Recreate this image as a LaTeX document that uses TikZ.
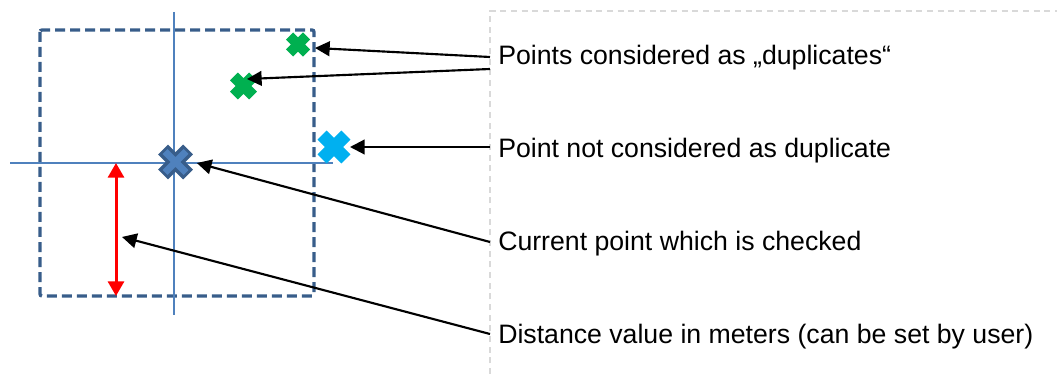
\documentclass[tikz,border=0pt]{standalone}
\usepackage{fontspec}
\setmainfont{Liberation Sans}
\usetikzlibrary{arrows.meta, positioning}
\definecolor{boxblue}{HTML}{385D8A}
\definecolor{axisblue}{HTML}{4F81BD}
\definecolor{dupgreen}{HTML}{00B050}
\definecolor{freecyan}{HTML}{00B0F0}
\definecolor{framegray}{HTML}{D9D9D9}
\tikzstyle{arrow} = [line width=1.6pt,-{Triangle[length=11pt,width=11pt]}]
\tikzstyle{legend} = [anchor=base west, inner sep=0pt, font=\fontsize{20}{24}\selectfont]
\tikzstyle{axis} = [axisblue, line width=1.3pt]
% bold cross: centre, half arm, arm width, colour
\newcommand{\crossmark}[4]{%
  \draw[shift={(#1)}, #4, line width=#3] (-#2,-#2) -- (#2,#2) (-#2,#2) -- (#2,-#2);}

\begin{document}
\begin{tikzpicture}[x={(0.75pt,0)}, y={(0,-0.75pt)}]
   \useasboundingbox (0,0) rectangle (1057,374);

   % frame round the texts
   \draw[framegray, line width=1.2pt, dash pattern=on 4.5pt off 3.5pt] (490,374) -- (490,11) -- (1057,11);

   % search square
   \draw[boxblue, line width=2.5pt, dash pattern=on 7.5pt off 3.75pt, rounded corners=1.5pt] (40,30) rectangle (314,296);

   % axes through the current point
   \draw[axis] (174,12) -- (174,315);
   \draw[axis] (10,163) -- (333,163);

   % distance
   \draw[red, line width=2.25pt, {Triangle[length=11pt,width=12pt]}-{Triangle[length=11pt,width=12pt]}] (116,163) -- (116,296);
   \coordinate (distMid) at (116,229.5);

   % points
   \coordinate (dupA) at (298,44.5);
   \coordinate (dupB) at (243.5,86);
   \coordinate (freePt) at (334,147);
   \coordinate (curPt) at (175.5,162);
   \crossmark{dupA}{8.5}{7.5pt}{dupgreen}
   \crossmark{dupB}{9.6}{8.25pt}{dupgreen}
   \crossmark{freePt}{11.9}{9.75pt}{freecyan}
   \crossmark{curPt}{12.5}{10.5pt}{boxblue}
   \crossmark{curPt}{10.5}{5.25pt}{axisblue}

   % texts
   \node[legend] (dupText) at (498,65) {Points considered as „duplicates“};
   \node[legend] (freeText) at (498,158) {Point not considered as duplicate};
   \node[legend] (curText) at (498,251) {Current point which is checked};
   \node[legend] (distText) at (498,343) {Distance value in meters (can be set by user)};

   % pointers
   \draw[arrow] ([xshift=-6pt,yshift=6pt]dupText.base west) -- ([xshift=12.75pt,yshift=-2.6pt]dupA);
   \draw[arrow] ([xshift=-6pt,yshift=-3pt]dupText.base west) -- ([xshift=2.6pt,yshift=5.25pt]dupB);
   \draw[arrow] ([xshift=-6pt,yshift=8.25pt]freeText.base west) -- ([xshift=12pt]freePt);
   \draw[arrow] ([xshift=-6pt,yshift=6.75pt]curText.base west) -- ([xshift=16pt,yshift=-0.75pt]curPt);
   \draw[arrow] ([xshift=-6pt,yshift=6.75pt]distText.base west) -- ([xshift=4.5pt,yshift=-5.6pt]distMid);

\end{tikzpicture}
\end{document}
